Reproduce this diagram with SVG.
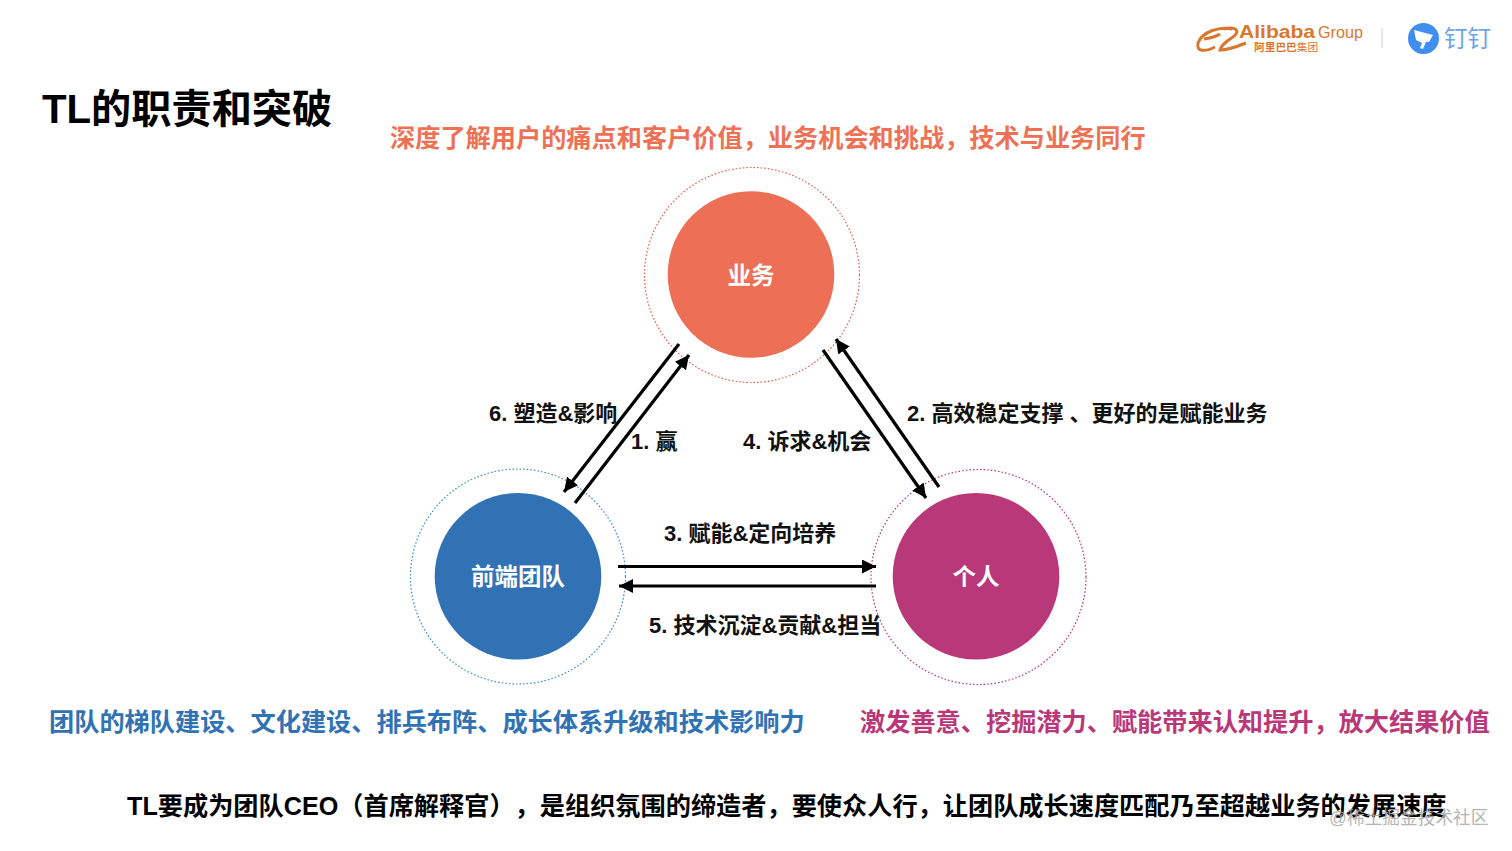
<svg xmlns="http://www.w3.org/2000/svg" width="1512" height="851" viewBox="0 0 1512 851">
<style>
text{font-family:"Liberation Sans","Noto Sans CJK SC",sans-serif;font-weight:700;text-spacing-trim:space-all}
.h{font-size:25.2px}
.l{font-size:22px;fill:#111}
.n{font-size:23.5px;fill:#fff;text-anchor:middle}
.ring{fill:none;stroke-width:1.2;stroke-dasharray:1.6 2}
.c{fill:none;stroke:#000;stroke-width:3.2}
</style>
<defs>
<marker id="a" markerUnits="userSpaceOnUse" markerWidth="16" markerHeight="14" refX="14" refY="7" orient="auto"><path d="M0 0L14 7L0 14Z" fill="#000"/></marker>
</defs>
<rect width="1512" height="851" fill="#fff"/>
<g id="logo">
<path d="M1232 29C1219 26 1202 32 1198 43C1196 52 1205 52 1215 47M1204 39C1210 38 1216 37 1220 34M1224 29C1236 26 1241 31 1233 37C1227 41 1221 45 1220 50C1226 50 1236 47 1246 43" fill="none" stroke="#d9772f" stroke-width="3"/>
<text x="1239" y="38" font-size="19" fill="#d9772f" textLength="76" lengthAdjust="spacingAndGlyphs">Alibaba</text>
<text x="1318" y="38" font-size="16.200" fill="#d9772f" style="font-weight:400">Group</text>
<text x="1254" y="51" font-size="10.700" fill="#d9772f">阿里巴巴<tspan style="font-weight:400">集团</tspan></text>
<path d="M1382 28V48" stroke="#d8d8d8" stroke-width="1.2"/>
<circle cx="1423.500" cy="38.500" r="15.500" fill="#3f8ef0"/>
<path d="M1414 30L1433 35L1429 42L1426 42L1423 49L1420 48L1422 43L1416 40Z" fill="#fff"/>
<text x="1444" y="47" font-size="23.500" fill="#6aa5e8" style="font-weight:400">钉钉</text>
</g>
<text id="title" x="42" y="123" font-size="40.200" fill="#000">TL的职责和突破</text>
<text class="h" x="390" y="147" fill="#ee7156">深度了解用户的痛点和客户价值，业务机会和挑战，技术与业务同行</text>
<g id="node-business">
<circle class="ring" cx="752" cy="275" r="107.500" stroke="#e8604a"/>
<circle cx="751" cy="274.500" r="83.300" fill="#ed7056"/>
<text class="n" x="751" y="284">业务</text>
</g>
<g id="node-team">
<circle class="ring" cx="518" cy="576.500" r="107.500" stroke="#3d8fd6"/>
<circle cx="518" cy="576.300" r="83.300" fill="#3072b3"/>
<text class="n" x="518" y="585">前端团队</text>
</g>
<g id="node-person">
<circle class="ring" cx="978.500" cy="577" r="107.500" stroke="#b83a7a"/>
<circle cx="976" cy="576.300" r="83.300" fill="#b93879"/>
<text class="n" x="976" y="585">个人</text>
</g>
<g id="connectors">
<path class="c" d="M679 344L564 492" marker-end="url(#a)"/>
<path class="c" d="M575 503L689 355" marker-end="url(#a)"/>
<path class="c" d="M939 487L836 339" marker-end="url(#a)"/>
<path class="c" d="M823 350L926 498" marker-end="url(#a)"/>
<path class="c" d="M618 566.500H876" marker-end="url(#a)"/>
<path class="c" d="M876 586H619" marker-end="url(#a)"/>
</g>
<g id="labels">
<text class="l" x="489" y="421">6. 塑造&amp;影响</text>
<text class="l" x="631" y="449">1. 赢</text>
<text class="l" x="743" y="449">4. 诉求&amp;机会</text>
<text class="l" x="907" y="421">2. 高效稳定支撑 、更好的是赋能业务</text>
<text class="l" x="664" y="541">3. 赋能&amp;定向培养</text>
<text class="l" x="649" y="633">5. 技术沉淀&amp;贡献&amp;担当</text>
</g>
<text class="h" x="49" y="731" fill="#3072b3">团队的梯队建设、文化建设、排兵布阵、成长体系升级和技术影响力</text>
<text class="h" x="860" y="731" fill="#b93879">激发善意、挖掘潜力、赋能带来认知提升，放大结果价值</text>
<text x="127" y="815" font-size="25.200" fill="#000">TL要成为团队CEO（首席解释官），是组织氛围的缔造者，要使众人行，让团队成长速度匹配乃至超越业务的发展速度</text>
<text x="1329" y="824" font-size="17.700" fill="#a9a9a9" opacity="0.85" style="font-weight:400">@稀土掘金技术社区</text>
</svg>
